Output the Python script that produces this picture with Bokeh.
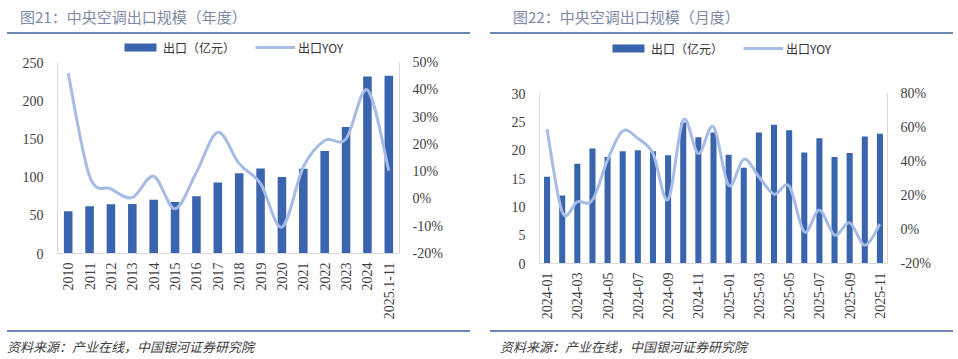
import numpy as np
from bokeh.plotting import figure
from bokeh.models import (Range1d, LinearAxis, FixedTicker, PrintfTickFormatter,
                          Legend, LegendItem, Div, ColumnDataSource, CDSView, IndexFilter)
from bokeh.layouts import row, column
from bokeh.embed import file_html
from bokeh.resources import INLINE

# ---------------- data ----------------
years = ["2010", "2011", "2012", "2013", "2014", "2015", "2016", "2017", "2018",
         "2019", "2020", "2021", "2022", "2023", "2024", "2025.1-11"]
annual_export = [55.2, 61.7, 64.3, 64.8, 70.4, 67.4, 74.8, 93.0, 105.2,
                 111.3, 100.0, 110.9, 134.3, 165.6, 231.7, 232.6]
annual_yoy = [46.1, 8.3, 3.7, 0.5, 8.3, -3.6, 9.8, 24.4, 12.9,
              5.6, -10.3, 11.7, 21.4, 22.0, 39.9, 10.4]

months = ["2024-01", "2024-02", "2024-03", "2024-04", "2024-05", "2024-06",
          "2024-07", "2024-08", "2024-09", "2024-10", "2024-11", "2024-12",
          "2025-01", "2025-02", "2025-03", "2025-04", "2025-05", "2025-06",
          "2025-07", "2025-08", "2025-09", "2025-10", "2025-11"]
monthly_export = [15.3, 12.0, 17.6, 20.3, 18.8, 19.8, 20.0, 19.8, 19.1, 24.9, 22.3, 23.1,
                  19.2, 16.9, 23.1, 24.5, 23.5, 19.6, 22.1, 18.8, 19.5, 22.4, 22.9]
monthly_yoy = [59.0, 10.4, 16.3, 17.3, 41.0, 58.0, 53.5, 44.7, 17.6, 64.3, 44.7, 60.4,
               26.0, 41.4, 31.0, 20.8, 25.5, -1.4, 11.4, -3.3, 3.9, -9.2, 3.1]

annual_left_ticks = [0, 50, 100, 150, 200, 250]
annual_right_ticks = [-20, -10, 0, 10, 20, 30, 40, 50]
monthly_left_ticks = [0, 5, 10, 15, 20, 25, 30]
monthly_right_ticks = [-20, 0, 20, 40, 60, 80]

BAR = "#3a64ae"
LINE = "#a6bce6"
AXIS = "#d9d9d9"
TICK_FONT = "Liberation Serif"
CJK = "Noto Sans CJK SC"


def smooth(ys):
    """Catmull-Rom -> cubic Bezier segments (Excel-style smoothed line)."""
    n = len(ys)
    P = [(float(i), float(y)) for i, y in enumerate(ys)]
    d = {k: [] for k in ["x0", "y0", "x1", "y1", "cx0", "cy0", "cx1", "cy1"]}
    for i in range(n - 1):
        pm = P[max(i - 1, 0)]
        p0 = P[i]
        p1 = P[i + 1]
        p2 = P[min(i + 2, n - 1)]
        d["x0"].append(p0[0]); d["y0"].append(p0[1])
        d["x1"].append(p1[0]); d["y1"].append(p1[1])
        d["cx0"].append(p0[0] + (p1[0] - pm[0]) / 6)
        d["cy0"].append(p0[1] + (p1[1] - pm[1]) / 6)
        d["cx1"].append(p1[0] - (p2[0] - p0[0]) / 6)
        d["cy1"].append(p1[1] - (p2[1] - p0[1]) / 6)
    return ColumnDataSource(d)


def style_axis(ax, standoff):
    ax.axis_line_color = AXIS
    ax.major_tick_line_color = None
    ax.minor_tick_line_color = None
    ax.major_tick_out = 0
    ax.major_tick_in = 0
    ax.major_label_text_font = TICK_FONT
    ax.major_label_text_font_size = "14px"
    ax.major_label_text_color = "#404040"
    ax.major_label_standoff = standoff


FIG_H = 296
TOP_PAD = 2


def make_chart(cats, bars, yoy, ymax, yoy_lo, yoy_hi, lticks, rticks, xticks,
               w, bl, br, plot_top, bb, leg_loc):
    """plot_top: distance from figure top to the top of the value axes."""
    n = len(cats)
    frame_h = FIG_H - TOP_PAD - bb          # frame extended upward to hold the legend
    axis_h = FIG_H - plot_top - bb          # height used by the value axes
    ext = frame_h / axis_h
    p = figure(width=w, height=FIG_H,
               x_range=Range1d(-0.5, n - 0.5), y_range=Range1d(0, ymax * ext),
               output_backend="svg", toolbar_location=None,
               min_border_left=bl, min_border_right=br,
               min_border_top=TOP_PAD, min_border_bottom=bb)
    p.outline_line_color = None
    p.xgrid.visible = False
    p.ygrid.visible = False

    p.extra_y_ranges = {"yoy": Range1d(yoy_lo, yoy_lo + (yoy_hi - yoy_lo) * ext)}

    src = ColumnDataSource(dict(x=list(range(n)), top=bars, yoy=yoy))
    vb = p.vbar(x="x", top="top", width=0.4, source=src,
                fill_color=BAR, line_color=None)
    p.bezier(source=smooth(yoy), x0="x0", y0="y0", x1="x1", y1="y1",
             cx0="cx0", cy0="cy0", cx1="cx1", cy1="cy1",
             line_color=LINE, line_width=3, y_range_name="yoy")
    # single-point line (draws nothing visible); it only supplies the legend swatch
    leg_line = p.line(x="x", y="yoy", source=src, view=CDSView(filter=IndexFilter(indices=[0])),
                      line_color=LINE, line_width=3, y_range_name="yoy")

    xa = p.xaxis[0]
    xa.ticker = FixedTicker(ticks=xticks)
    xa.major_label_overrides = {i: cats[i] for i in xticks}
    xa.major_label_orientation = np.pi / 2
    style_axis(xa, 9)

    ya = p.yaxis[0]
    ya.ticker = FixedTicker(ticks=lticks)
    ya.bounds = (0, ymax)
    style_axis(ya, 14)

    ra = LinearAxis(y_range_name="yoy", ticker=FixedTicker(ticks=rticks),
                    formatter=PrintfTickFormatter(format="%d%%"), bounds=(yoy_lo, yoy_hi))
    style_axis(ra, 13)
    p.add_layout(ra, "right")

    legend = Legend(items=[LegendItem(label="出口（亿元）", renderers=[vb]),
                           LegendItem(label="出口YOY", renderers=[leg_line])],
                    orientation="horizontal", location=leg_loc,
                    glyph_width=40, glyph_height=10, label_standoff=3, spacing=20,
                    label_text_font=CJK, label_text_font_size="12px",
                    label_text_color="#333333", label_height=20,
                    padding=0, margin=0, border_line_color=None,
                    background_fill_alpha=0)
    p.add_layout(legend, "center")
    return p


# left chart: x 0..482, axes 57..399 ; figure y 34..330, axes 62..253
left = make_chart(years, annual_export, annual_yoy, 250, -20, 50,
                  annual_left_ticks, annual_right_ticks, list(range(len(years))),
                  482, 57, 83, 28, 77, (63, 196))
# right chart: x 482..958, axes 539..887 ; axes y 93..263
right = make_chart(months, monthly_export, monthly_yoy, 30, -20, 80,
                   monthly_left_ticks, monthly_right_ticks, list(range(0, len(months), 2)),
                   476, 57, 71, 59, 67, (69, 205))

RULE = "#6f85b8"


def title_div(text, total_w, w, ml, pl):
    html = (f'<div style="box-sizing:border-box;height:34px;width:{w}px;margin-left:{ml}px;'
            f'border-bottom:2px solid {RULE};padding-left:{pl}px;padding-top:8px;'
            f'font-family:\'{CJK}\';font-size:15px;line-height:18px;color:#7c89a8;'
            f'white-space:nowrap;">{text}</div>')
    return Div(text=html, width=total_w, height=34, margin=0)


def source_div(total_w, w, ml, pl):
    html = (f'<div style="box-sizing:border-box;height:29px;width:{w}px;margin-left:{ml}px;'
            f'border-top:2px solid {RULE};padding-left:{pl}px;padding-top:7px;'
            f'font-family:\'{CJK}\';font-size:13px;line-height:16px;font-style:italic;'
            f'color:#404040;white-space:nowrap;">资料来源：产业在线，中国银河证券研究院</div>')
    return Div(text=html, width=total_w, height=29, margin=0)


lcol = column(title_div("图21：中央空调出口规模（年度）", 482, 463, 7, 13), left,
              source_div(482, 463, 7, 0), spacing=0)
rcol = column(title_div("图22：中央空调出口规模（月度）", 476, 463, 8, 23), right,
              source_div(476, 463, 8, 10), spacing=0)
page = row(lcol, rcol, spacing=0)

open("out.html", "w").write(file_html(page, INLINE))
